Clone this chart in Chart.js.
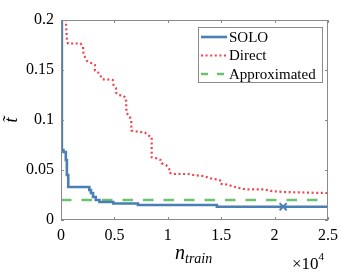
<!DOCTYPE html>
<html>
<head>
<meta charset="utf-8">
<script src="https://cdn.jsdelivr.net/npm/chart.js@4.4.1/dist/chart.umd.min.js"></script>
<style>
  html, body { margin: 0; padding: 0; background: #fff; }
</style>
</head>
<body>
<canvas id="chart" width="363" height="273"></canvas>
<script>
// data (x in samples, y is t~)
const soloX = [0, 80, 230, 450, 550, 680, 2650, 2800, 3000, 3250, 3600, 4900, 7200, 14600, 25000];
const soloY = [0.5, 0.07, 0.068, 0.06, 0.045, 0.033, 0.03, 0.027, 0.023, 0.02, 0.018, 0.0165, 0.015, 0.0133, 0.0133];

const directX = [400, 515, 560, 655, 1845, 2060, 2105, 2245, 2435, 2575, 2875, 3180, 3180, 3585, 3715, 3905, 4335, 4840, 4895, 5150, 5150, 5400, 5830, 6085, 6130, 6410, 6580, 6580, 6600, 7020, 7860, 8080, 8490, 8490, 8960, 9330, 9425, 9830, 10140, 10140, 10510, 11915, 12380, 13320, 13695, 14200, 14630, 15040, 15040, 15570, 15980, 16380, 16820, 17220, 19090, 19500, 19940, 20810, 24710, 25000];
const directY = [0.21, 0.187, 0.18, 0.1765, 0.1765, 0.173, 0.167, 0.163, 0.159, 0.158, 0.1567, 0.155, 0.1493, 0.1467, 0.144, 0.1407, 0.1407, 0.14, 0.1357, 0.1317, 0.1273, 0.125, 0.1243, 0.1217, 0.107, 0.104, 0.0995, 0.095, 0.0895, 0.0885, 0.0875, 0.085, 0.083, 0.0627, 0.0617, 0.06, 0.0567, 0.055, 0.0507, 0.0473, 0.046, 0.046, 0.045, 0.044, 0.0427, 0.041, 0.0405, 0.039, 0.036, 0.0355, 0.034, 0.0327, 0.0317, 0.0307, 0.0307, 0.0293, 0.0287, 0.028, 0.027, 0.027];

const approxX = [0, 25000];
const approxY = [0.02, 0.02];

const markerX = [20800];
const markerY = [0.0133];

const xTicks = [0, 5000, 10000, 15000, 20000, 25000];
const yTicks = [0, 0.05, 0.1, 0.15, 0.2];
const legendLabels = ['SOLO', 'Direct', 'Approximated'];

const BLUE = '#4a7fb3';
const RED = '#f2424a';
const GREEN = '#6dc26d';
const AXIS = '#8a8a8a';
const SERIF = '"Liberation Serif", "DejaVu Serif", serif';

function pts(xs, ys) {
    return xs.map((x, i) => ({ x: x, y: ys[i] }));
}

// box, inward ticks, legend and axis titles
const decor = {
    id: 'decor',
    afterDraw(chart) {
        const ctx = chart.ctx;
        const a = chart.chartArea;
        const xs = chart.scales.x;
        const ys = chart.scales.y;
        ctx.save();
        ctx.strokeStyle = AXIS;
        ctx.lineWidth = 1;
        ctx.strokeRect(a.left + 0.5, a.top + 0.5, a.right - a.left - 1, a.bottom - a.top - 1);
        ctx.beginPath();
        xTicks.forEach(v => {
            const px = Math.round(xs.getPixelForValue(v)) + 0.5;
            ctx.moveTo(px, a.bottom); ctx.lineTo(px, a.bottom - 3);
            ctx.moveTo(px, a.top); ctx.lineTo(px, a.top + 3);
        });
        yTicks.forEach(v => {
            const py = Math.round(ys.getPixelForValue(v)) + 0.5;
            ctx.moveTo(a.left, py); ctx.lineTo(a.left + 3, py);
            ctx.moveTo(a.right, py); ctx.lineTo(a.right - 3, py);
        });
        ctx.stroke();

        // legend
        const lx = 198, ly = 27, lw = 124, lh = 55;
        ctx.fillStyle = '#fff';
        ctx.fillRect(lx, ly, lw, lh);
        ctx.strokeRect(lx + 0.5, ly + 0.5, lw, lh);
        const ds = chart.data.datasets;
        ctx.font = '15px ' + SERIF;
        ctx.textBaseline = 'middle';
        ctx.textAlign = 'left';
        legendLabels.forEach((lab, i) => {
            const y = ly + 10 + i * 18.5;
            ctx.strokeStyle = ds[i].borderColor;
            ctx.lineWidth = ds[i].borderWidth;
            ctx.setLineDash(i === 2 ? [7, 9] : (ds[i].borderDash || []));
            ctx.beginPath();
            ctx.moveTo(lx + 3, y); ctx.lineTo(lx + 29, y);
            ctx.stroke();
            ctx.setLineDash([]);
            ctx.fillStyle = '#000';
            ctx.fillText(lab, lx + 31, y + 1);
        });

        // x title n_train
        ctx.fillStyle = '#000';
        ctx.textBaseline = 'alphabetic';
        ctx.font = 'italic 20px ' + SERIF;
        ctx.fillText('n', 175, 259);
        const nw = ctx.measureText('n').width;
        ctx.font = 'italic 14px ' + SERIF;
        ctx.fillText('train', 175 + nw, 263);

        // x10^4
        ctx.font = '17px ' + SERIF;
        ctx.fillText('\u00d710', 292, 269);
        const mw = ctx.measureText('\u00d710').width;
        ctx.font = '11px ' + SERIF;
        ctx.fillText('4', 292 + mw, 260);

        // y title
        ctx.translate(12, 120);
        ctx.rotate(-Math.PI / 2);
        ctx.font = 'italic 18px ' + SERIF;
        ctx.textAlign = 'center';
        ctx.textBaseline = 'middle';
        ctx.fillText('t\u0303', 0, 0);
        ctx.restore();
    }
};

new Chart(document.getElementById('chart'), {
    type: 'line',
    data: {
        datasets: [
            {
                label: legendLabels[0],
                data: pts(soloX, soloY),
                borderColor: BLUE,
                borderWidth: 2.6,
                stepped: true,
                pointRadius: 0,
                fill: false
            },
            {
                label: legendLabels[1],
                data: pts(directX, directY),
                borderColor: RED,
                borderWidth: 2.2,
                borderDash: [2, 2.6],
                borderCapStyle: 'butt',
                pointRadius: 0,
                tension: 0,
                fill: false
            },
            {
                label: legendLabels[2],
                data: pts(approxX, approxY),
                borderColor: GREEN,
                borderWidth: 2.6,
                borderDash: [10.5, 10],
                pointRadius: 0,
                fill: false
            },
            {
                label: 'marker',
                data: pts(markerX, markerY),
                borderColor: BLUE,
                backgroundColor: BLUE,
                showLine: false,
                pointStyle: 'crossRot',
                pointRadius: 5,
                pointBorderWidth: 2
            }
        ]
    },
    options: {
        responsive: false,
        animation: false,
        events: [],
        layout: { padding: { top: 20, right: 35, bottom: 0, left: 0 } },
        plugins: {
            legend: { display: false },
            tooltip: { enabled: false }
        },
        scales: {
            x: {
                type: 'linear',
                min: 0,
                max: 25000,
                afterFit: s => { s.height = 53; },
                afterBuildTicks: s => { s.ticks = xTicks.map(v => ({ value: v })); },
                grid: { display: false, drawTicks: false },
                border: { display: false },
                ticks: {
                    padding: 6,
                    color: '#000',
                    font: { family: SERIF, size: 16 },
                    maxRotation: 0,
                    callback: v => String(v / 10000)
                }
            },
            y: {
                type: 'linear',
                min: 0,
                max: 0.2,
                afterFit: s => { s.width = 61; },
                afterBuildTicks: s => { s.ticks = yTicks.map(v => ({ value: v })); },
                grid: { display: false, drawTicks: false },
                border: { display: false },
                ticks: {
                    padding: 7,
                    color: '#000',
                    font: { family: SERIF, size: 16 },
                    callback: v => String(v)
                }
            }
        }
    },
    plugins: [decor]
});
</script>
</body>
</html>
